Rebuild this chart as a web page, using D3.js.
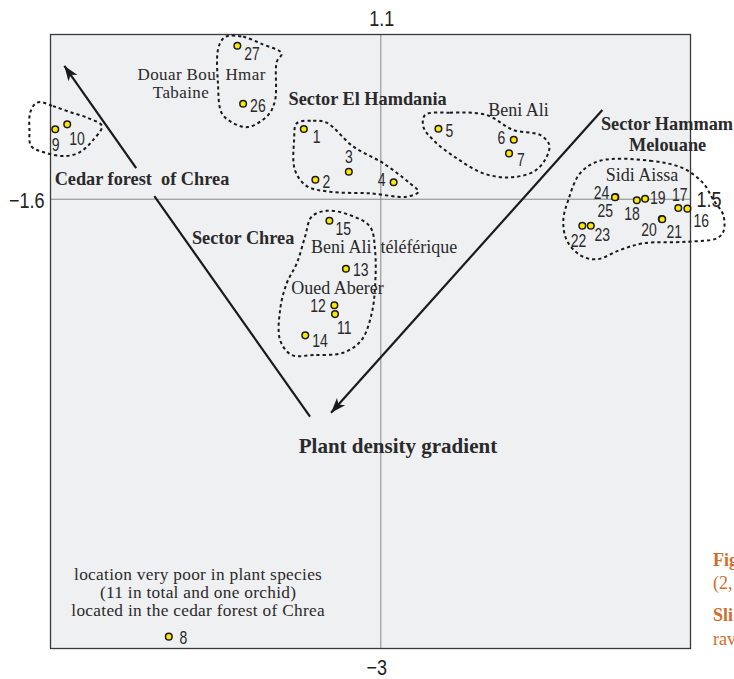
<!DOCTYPE html>
<html><head><meta charset="utf-8">
<script src="https://cdn.jsdelivr.net/npm/d3@7"></script>
<style>html,body{margin:0;padding:0;background:#fff;overflow:hidden}</style>
</head><body><svg id="c" width="734" height="679"></svg>
<script>
// ---------- data ----------
const xDomain = [-1.6, 1.5];
const yDomain = [-3, 1.1];
const xTickLabels = ["\u22121.6", "1.5"];
const yTickLabels = ["\u22123", "1.1"];

const siteIds = [1,2,3,4,5,6,7,8,9,10,11,12,13,14,15,16,17,18,19,20,21,22,23,24,25,26,27];
const dim1 = [-0.373,-0.317,-0.155,0.062,0.279,0.644,0.621,-1.027,-1.577,-1.519,-0.222,-0.225,-0.169,-0.366,-0.249,1.485,1.441,1.240,1.280,1.361,1.363,0.976,1.017,1.136,1.134,-0.667,-0.695];
const dim2 = [0.469,0.130,0.184,0.113,0.471,0.397,0.306,-2.921,0.467,0.500,-0.767,-0.708,-0.464,-0.909,-0.144,-0.063,-0.059,-0.007,0.003,-0.132,-0.134,-0.177,-0.177,0.015,0.013,0.638,1.025];

// group outlines (data units)
const hullWest = [[-1.651,0.649],[-1.588,0.622],[-1.505,0.582],[-1.418,0.542],[-1.351,0.489],[-1.394,0.395],[-1.457,0.315],[-1.530,0.288],[-1.636,0.315],[-1.694,0.355],[-1.702,0.462],[-1.699,0.576],[-1.675,0.636]];
const hullDouar = [[-0.740,1.090],[-0.667,1.085],[-0.575,1.036],[-0.480,0.974],[-0.504,0.918],[-0.512,0.662],[-0.546,0.562],[-0.643,0.482],[-0.716,0.509],[-0.771,0.576],[-0.789,0.776],[-0.789,0.997],[-0.766,1.070]];
const hullHamdania = [[-0.407,0.507],[-0.328,0.524],[-0.262,0.511],[-0.133,0.351],[0.012,0.240],[0.141,0.106],[0.182,0.050],[0.125,0.017],[-0.052,0.039],[-0.246,0.050],[-0.359,0.088],[-0.416,0.195],[-0.420,0.395]];
const hullBeniAli = [[0.214,0.562],[0.335,0.578],[0.513,0.562],[0.642,0.462],[0.771,0.429],[0.816,0.362],[0.795,0.262],[0.739,0.184],[0.626,0.146],[0.496,0.173],[0.368,0.273],[0.254,0.395],[0.206,0.484]];
const hullChrea = [[-0.262,-0.077],[-0.149,-0.106],[-0.052,-0.184],[-0.028,-0.339],[-0.028,-0.584],[-0.044,-0.762],[-0.093,-0.940],[-0.182,-1.025],[-0.327,-1.040],[-0.432,-1.040],[-0.488,-0.940],[-0.488,-0.740],[-0.456,-0.562],[-0.407,-0.428],[-0.367,-0.250],[-0.335,-0.117]];
const hullHammam = [[1.062,0.257],[1.304,0.257],[1.465,0.206],[1.562,0.106],[1.611,-0.005],[1.659,-0.106],[1.659,-0.217],[1.627,-0.261],[1.482,-0.284],[1.272,-0.294],[1.159,-0.339],[1.046,-0.401],[0.965,-0.373],[0.900,-0.272],[0.884,-0.139],[0.908,-0.005],[0.965,0.173]];

// gradient arrows (data units) [x1,y1,x2,y2,hasHead]
const arrowsData = [[-1.185,0.208,-1.533,0.891,1],[-1.097,0.021,-0.343,-1.452,0],[1.073,0.596,-0.241,-1.426,1]];

// annotations
const annText = ["Douar Bou  Hmar","Tabaine","Cedar forest  of Chrea","Sector El Hamdania","Beni Ali","Sector Hammam","Melouane","Sidi Aissa","Sector Chrea","Beni Ali  t\u00e9l\u00e9f\u00e9rique","Oued Aberer","Plant density gradient","location very poor in plant species","(11 in total and one orchid)","located in the cedar forest of Chrea"];
const annX = [-0.868,-0.968,-1.157,-0.064,0.667,1.386,1.389,1.265,-0.667,0.016,-0.210,0.083,-0.885,-0.885,-0.885];
const annY = [0.796,0.678,0.095,0.629,0.556,0.462,0.324,0.122,-0.299,-0.359,-0.633,-1.695,-2.543,-2.663,-2.783];
const annBold = [0,0,1,1,0,1,1,0,1,0,0,1,0,0,0];

const captionText = ["Fig","(2,","Sli","rav"];
const captionBold = [1,0,1,0];

// label placement [dx, dy, anchor]
const labelPlace = [[9,14,"start"],[7,8,"start"],[0,-9,"middle"],[-8,4,"end"],[7,8,"start"],[-8.5,4,"end"],[8,13,"start"],[10.6,7,"start"],[-3.6,22,"start"],[2,21,"start"],[2,20,"start"],[-8.6,7,"end"],[7,7,"start"],[7,12,"start"],[6,14,"start"],[6,18,"start"],[1.5,-7,"middle"],[3,20,"end"],[5,5,"start"],[-5,17,"end"],[4.3,19,"start"],[4,21,"end"],[3.6,15,"start"],[-6,2,"end"],[-2,20,"end"],[7,8,"start"],[7,14,"start"]];

// ---------- drawing ----------
const svg = d3.select("#c");
const L = 50.5, R = 690.5, T = 34.5, B = 648.5;
const x = d3.scaleLinear().domain(xDomain).range([L, R]);
const y = d3.scaleLinear().domain(yDomain).range([B, T]);
const NUM = "'Liberation Sans',Arial,sans-serif";
const SERIF = "'Liberation Serif','Times New Roman',serif";
const NARROW = 0.8;

svg.append("rect").attr("x", L).attr("y", T).attr("width", R - L).attr("height", B - T)
  .attr("fill", "#eff0f2");

// crosshair through origin
svg.append("line").attr("x1", x(0)).attr("x2", x(0)).attr("y1", T).attr("y2", B)
  .attr("stroke", "#888").attr("stroke-width", 1);
svg.append("line").attr("x1", L).attr("x2", R).attr("y1", y(0)).attr("y2", y(0))
  .attr("stroke", "#888").attr("stroke-width", 1);

svg.append("rect").attr("x", L).attr("y", T).attr("width", R - L).attr("height", B - T)
  .attr("fill", "none").attr("stroke", "#3a3a3a").attr("stroke-width", 1.3);

// axis end labels (condensed sans)
const ax = svg.append("g").attr("font-family", NUM).attr("fill", "#222").attr("font-size", 22.5);
function narrowText(g, px, py, anchor, t) {
  g.append("text").attr("transform", `translate(${px},${py}) scale(${NARROW},1)`)
    .attr("text-anchor", anchor).text(t);
}
narrowText(ax, x(0) + 1, y(yDomain[1]) - 8.5, "middle", yTickLabels[1]);
narrowText(ax, x(0) - 4, y(yDomain[0]) + 26.5, "middle", yTickLabels[0]);
narrowText(ax, x(xDomain[0]) - 6, y(0) + 9, "end", xTickLabels[0]);
narrowText(ax, x(xDomain[1]) + 6, y(0) + 7.5, "start", xTickLabels[1]);

// hulls
const hullLine = d3.line().x(d => x(d[0])).y(d => y(d[1])).curve(d3.curveCatmullRomClosed.alpha(0.5));
[hullWest, hullDouar, hullHamdania, hullBeniAli, hullChrea, hullHammam].forEach(h => {
  svg.append("path").attr("d", hullLine(h)).attr("fill", "none")
    .attr("stroke", "#1a1a1a").attr("stroke-width", 2).attr("stroke-dasharray", "3.2,3");
});

// arrows
svg.append("defs").append("marker").attr("id", "ah")
  .attr("viewBox", "-16 -7 17 14").attr("refX", 0).attr("refY", 0)
  .attr("markerWidth", 17).attr("markerHeight", 14).attr("markerUnits", "userSpaceOnUse")
  .attr("orient", "auto")
  .append("path").attr("d", "M0,0 L-15,-5.5 L-11,0 L-15,5.5 Z").attr("fill", "#1a1a1a");
arrowsData.forEach(a => {
  const l = svg.append("line").attr("x1", x(a[0])).attr("y1", y(a[1])).attr("x2", x(a[2])).attr("y2", y(a[3]))
    .attr("stroke", "#1a1a1a").attr("stroke-width", 2.2);
  if (a[4]) l.attr("marker-end", "url(#ah)");
});

// annotation texts
const annSize = i => i === 11 ? 21 : (annBold[i] ? 18.3 : (i >= 12 ? 17.3 : (i <= 1 ? 17 : 18)));
const annSpacing = i => (i >= 12 ? 0.3 : (i <= 1 ? 0.4 : 0));
const ann = svg.append("g").attr("font-family", SERIF).attr("fill", "#2a2a2a");
annText.forEach((t, i) => {
  ann.append("text").attr("x", x(annX[i])).attr("y", y(annY[i]))
    .attr("text-anchor", "middle").style("white-space", "pre")
    .attr("font-weight", annBold[i] ? "bold" : "normal")
    .attr("font-size", annSize(i))
    .attr("letter-spacing", annSpacing(i))
    .text(t);
});

// points
svg.append("g").selectAll("circle").data(siteIds).join("circle")
  .attr("cx", (d, i) => x(dim1[i])).attr("cy", (d, i) => y(dim2[i]))
  .attr("r", 3.3).attr("fill", "#ffe800").attr("stroke", "#1a1a1a").attr("stroke-width", 1.5);

// point labels (condensed sans)
svg.append("g").attr("font-family", NUM).attr("font-size", 17.5).attr("fill", "#2a2a2a")
  .selectAll("text").data(siteIds).join("text")
  .attr("transform", (d, i) => `translate(${x(dim1[i]) + labelPlace[i][0]},${y(dim2[i]) + labelPlace[i][1]}) scale(${NARROW},1)`)
  .attr("text-anchor", (d, i) => labelPlace[i][2])
  .text(d => d);

// clipped caption at right edge
const cap = svg.append("g").attr("font-family", SERIF).attr("font-size", 18).attr("fill", "#cf6e2b");
[566, 589, 621, 645].forEach((yy, i) => {
  cap.append("text").attr("x", 713).attr("y", yy).attr("font-weight", captionBold[i] ? "bold" : "normal")
    .text(captionText[i]);
});
</script></body></html>
